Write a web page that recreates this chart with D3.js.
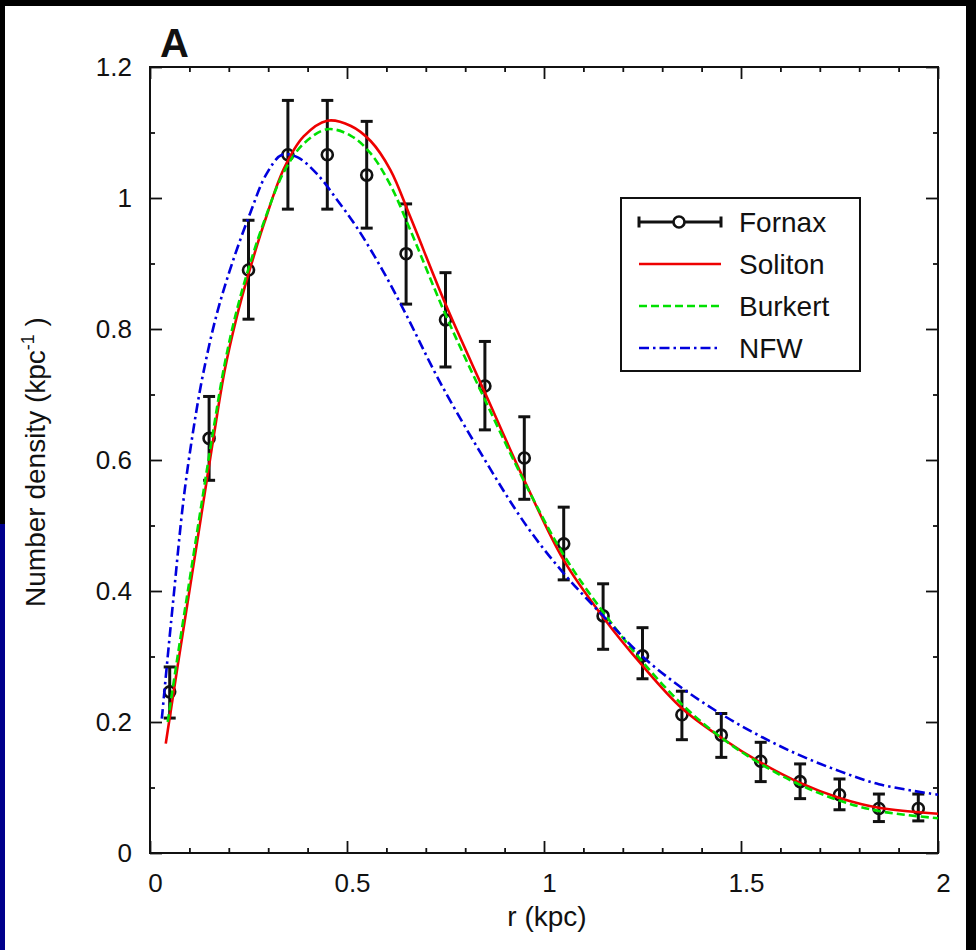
<!DOCTYPE html>
<html>
<head>
<meta charset="utf-8">
<script src="https://cdn.jsdelivr.net/npm/d3@7"></script>
<style>
  html, body { margin: 0; padding: 0; background: #000; }
  svg { display: block; }
  text { font-family: "Liberation Sans", Arial, Helvetica, sans-serif; fill: #111; }
</style>
</head>
<body>
<svg id="chart" width="976" height="950"></svg>
<script>
// ---------------- DATA ----------------
// Fornax number density (kpc^-1) with asymmetric error bars
const dataR     = [0.05, 0.15, 0.25, 0.35, 0.45, 0.55, 0.65, 0.75, 0.85, 0.95, 1.05, 1.15, 1.25, 1.35, 1.45, 1.55, 1.65, 1.75, 1.85, 1.95];
const dataN     = [0.246, 0.633, 0.890, 1.066, 1.066, 1.035, 0.915, 0.814, 0.713, 0.603, 0.472, 0.362, 0.301, 0.211, 0.180, 0.140, 0.109, 0.089, 0.068, 0.068];
const dataUpper = [0.284, 0.697, 0.966, 1.149, 1.149, 1.117, 0.991, 0.886, 0.781, 0.666, 0.528, 0.411, 0.344, 0.247, 0.213, 0.169, 0.136, 0.113, 0.090, 0.090];
const dataLower = [0.206, 0.569, 0.815, 0.983, 0.983, 0.954, 0.838, 0.742, 0.646, 0.540, 0.417, 0.311, 0.266, 0.173, 0.146, 0.109, 0.083, 0.066, 0.048, 0.049];

// Soliton fit
const solitonR = [0.04, 0.07, 0.10, 0.13, 0.16, 0.19, 0.22, 0.25, 0.29, 0.34, 0.39, 0.45, 0.51, 0.56, 0.61, 0.66, 0.75, 0.85, 0.95, 1.05, 1.15, 1.25, 1.35, 1.45, 1.55, 1.65, 1.75, 1.85, 2.00];
const solitonN = [0.167, 0.285, 0.400, 0.515, 0.630, 0.738, 0.818, 0.884, 0.962, 1.045, 1.094, 1.118, 1.110, 1.087, 1.043, 0.972, 0.838, 0.703, 0.569, 0.447, 0.360, 0.286, 0.221, 0.176, 0.138, 0.107, 0.084, 0.069, 0.060];

// Burkert fit
const burkertR = [0.045, 0.07, 0.10, 0.13, 0.16, 0.19, 0.22, 0.25, 0.29, 0.34, 0.39, 0.45, 0.51, 0.56, 0.61, 0.66, 0.75, 0.85, 0.95, 1.05, 1.15, 1.25, 1.35, 1.45, 1.55, 1.65, 1.75, 1.85, 2.00];
const burkertN = [0.200, 0.300, 0.415, 0.530, 0.643, 0.748, 0.828, 0.892, 0.965, 1.040, 1.083, 1.105, 1.095, 1.068, 1.020, 0.952, 0.822, 0.692, 0.567, 0.455, 0.368, 0.292, 0.227, 0.176, 0.136, 0.104, 0.080, 0.064, 0.053];

// NFW fit
const nfwR = [0.030, 0.045, 0.060, 0.085, 0.110, 0.135, 0.170, 0.210, 0.255, 0.295, 0.335, 0.375, 0.425, 0.475, 0.525, 0.590, 0.650, 0.735, 0.845, 0.955, 1.050, 1.150, 1.250, 1.350, 1.450, 1.550, 1.650, 1.750, 1.850, 2.000];
const nfwN = [0.205, 0.300, 0.392, 0.539, 0.646, 0.732, 0.824, 0.903, 0.978, 1.036, 1.066, 1.062, 1.036, 0.997, 0.955, 0.890, 0.822, 0.720, 0.605, 0.500, 0.427, 0.362, 0.300, 0.252, 0.212, 0.178, 0.149, 0.125, 0.105, 0.089];

// Axis ticks
const xMajorTicks = [0, 0.5, 1, 1.5, 2];
const xTickLabels = ["0", "0.5", "1", "1.5", "2"];
const xMinorTicks = [0.1, 0.2, 0.3, 0.4, 0.6, 0.7, 0.8, 0.9, 1.1, 1.2, 1.3, 1.4, 1.6, 1.7, 1.8, 1.9];
const yMajorTicks = [0, 0.2, 0.4, 0.6, 0.8, 1.0, 1.2];
const yTickLabels = ["0", "0.2", "0.4", "0.6", "0.8", "1", "1.2"];
const yMinorTicks = [0.1, 0.3, 0.5, 0.7, 0.9, 1.1];

const legendLabels = ["Fornax", "Soliton", "Burkert", "NFW"];

// ---------------- DRAW ----------------
const svg = d3.select("#chart");

// background: black frame, navy sliver at left, white page
svg.append("rect").attr("x", 0).attr("y", 0).attr("width", 976).attr("height", 950).attr("fill", "#000");
svg.append("rect").attr("x", 0).attr("y", 524).attr("width", 6).attr("height", 426).attr("fill", "#00008c");
svg.append("rect").attr("x", 5).attr("y", 6).attr("width", 961).attr("height", 944).attr("fill", "#fff");

const x = d3.scaleLinear().domain([0, 2]).range([150, 938]);
const y = d3.scaleLinear().domain([0, 1.2]).range([853, 67]);

const tickColor = "#111";

function styleAxis(g) {
  g.select(".domain").remove();
  g.selectAll(".tick line").attr("stroke", tickColor).attr("stroke-width", 1.8);
  g.selectAll(".tick text")
    .style("font-family", '"Liberation Sans", Arial, Helvetica, sans-serif')
    .style("font-size", "26px").attr("fill", "#111");
}

// bottom major
svg.append("g").attr("transform", "translate(0,853)")
  .call(d3.axisBottom(x).tickValues(xMajorTicks).tickSize(-12).tickPadding(21)
        .tickFormat((d, i) => xTickLabels[i]))
  .call(styleAxis)
  .call(g => g.selectAll(".tick text").attr("dx", 5));
// bottom minor
svg.append("g").attr("transform", "translate(0,853)")
  .call(d3.axisBottom(x).tickValues(xMinorTicks).tickSize(-5).tickFormat(""))
  .call(styleAxis);
// top
svg.append("g").attr("transform", "translate(0,67)")
  .call(d3.axisTop(x).tickValues(xMajorTicks).tickSize(-12).tickFormat(""))
  .call(styleAxis);
svg.append("g").attr("transform", "translate(0,67)")
  .call(d3.axisTop(x).tickValues(xMinorTicks).tickSize(-5).tickFormat(""))
  .call(styleAxis);
// left major
svg.append("g").attr("transform", "translate(150,0)")
  .call(d3.axisLeft(y).tickValues(yMajorTicks).tickSize(-12).tickPadding(18)
        .tickFormat((d, i) => yTickLabels[i]))
  .call(styleAxis);
svg.append("g").attr("transform", "translate(150,0)")
  .call(d3.axisLeft(y).tickValues(yMinorTicks).tickSize(-5).tickFormat(""))
  .call(styleAxis);
// right
svg.append("g").attr("transform", "translate(938,0)")
  .call(d3.axisRight(y).tickValues(yMajorTicks).tickSize(-12).tickFormat(""))
  .call(styleAxis);
svg.append("g").attr("transform", "translate(938,0)")
  .call(d3.axisRight(y).tickValues(yMinorTicks).tickSize(-5).tickFormat(""))
  .call(styleAxis);

// frame
svg.append("rect")
  .attr("x", x(0)).attr("y", y(1.2))
  .attr("width", x(2) - x(0)).attr("height", y(0) - y(1.2))
  .attr("fill", "none").attr("stroke", "#111").attr("stroke-width", 2);

// data with error bars
const pts = dataR.map((r, i) => ({ r, n: dataN[i], lo: dataLower[i], hi: dataUpper[i] }));
const dg = svg.append("g");
const capW = 6;
dg.selectAll(".eb").data(pts).join("line")
  .attr("x1", d => x(d.r)).attr("x2", d => x(d.r))
  .attr("y1", d => y(d.lo)).attr("y2", d => y(d.hi))
  .attr("stroke", "#111").attr("stroke-width", 3);
dg.selectAll(".capT").data(pts).join("line")
  .attr("x1", d => x(d.r) - capW).attr("x2", d => x(d.r) + capW)
  .attr("y1", d => y(d.hi)).attr("y2", d => y(d.hi))
  .attr("stroke", "#111").attr("stroke-width", 3);
dg.selectAll(".capB").data(pts).join("line")
  .attr("x1", d => x(d.r) - capW).attr("x2", d => x(d.r) + capW)
  .attr("y1", d => y(d.lo)).attr("y2", d => y(d.lo))
  .attr("stroke", "#111").attr("stroke-width", 3);
dg.selectAll("circle").data(pts).join("circle")
  .attr("cx", d => x(d.r)).attr("cy", d => y(d.n)).attr("r", 5.5)
  .attr("fill", "none").attr("stroke", "#111").attr("stroke-width", 2.6);

// model curves
const line = d3.line().x(d => x(d[0])).y(d => y(d[1])).curve(d3.curveCatmullRom.alpha(0.5));
const series = [
  { r: solitonR, n: solitonN, color: "#ee0000", dash: null },
  { r: burkertR, n: burkertN, color: "#00e000", dash: "8,4" },
  { r: nfwR, n: nfwN, color: "#0000dd", dash: "10,4,2.5,4" }
];
series.forEach(s => {
  svg.append("path")
    .datum(s.r.map((r, i) => [r, s.n[i]]))
    .attr("d", line)
    .attr("fill", "none")
    .attr("stroke", s.color)
    .attr("stroke-width", 2.6)
    .attr("stroke-dasharray", s.dash);
});

// legend
const lg = svg.append("g");
lg.append("rect").attr("x", 621).attr("y", 198).attr("width", 239).attr("height", 173)
  .attr("fill", "#fff").attr("stroke", "#111").attr("stroke-width", 2);
const rowY = [222, 264, 306, 348];
const lx1 = 639, lx2 = 721;
// Fornax sample
lg.append("line").attr("x1", lx1).attr("x2", lx2).attr("y1", rowY[0]).attr("y2", rowY[0]).attr("stroke", "#111").attr("stroke-width", 3);
lg.append("line").attr("x1", lx1).attr("x2", lx1).attr("y1", rowY[0] - 5.5).attr("y2", rowY[0] + 5.5).attr("stroke", "#111").attr("stroke-width", 3);
lg.append("line").attr("x1", lx2).attr("x2", lx2).attr("y1", rowY[0] - 5.5).attr("y2", rowY[0] + 5.5).attr("stroke", "#111").attr("stroke-width", 3);
lg.append("circle").attr("cx", 679).attr("cy", rowY[0]).attr("r", 5.5).attr("fill", "#fff").attr("stroke", "#111").attr("stroke-width", 2.6);
series.forEach((s, i) => {
  lg.append("line").attr("x1", lx1).attr("x2", lx2).attr("y1", rowY[i + 1]).attr("y2", rowY[i + 1])
    .attr("stroke", s.color).attr("stroke-width", 2.6).attr("stroke-dasharray", s.dash);
});
legendLabels.forEach((t, i) => {
  lg.append("text").attr("x", 739).attr("y", rowY[i] + 10)
    .style("font-size", "28px").text(t);
});

// axis titles
svg.append("text").attr("x", 547).attr("y", 926).attr("text-anchor", "middle")
  .style("font-size", "28px").text("r (kpc)");

const yt = svg.append("text")
  .attr("transform", "translate(45,462) rotate(-90)")
  .attr("text-anchor", "middle")
  .style("font-size", "28px");
yt.append("tspan").text("Number density (kpc");
yt.append("tspan").attr("dy", -11).style("font-size", "18px").text("-1");
yt.append("tspan").attr("dy", 11).text(" )");

// panel letter
svg.append("text").attr("x", 160).attr("y", 57)
  .style("font-size", "40px").style("font-weight", "bold").text("A");
</script>
</body>
</html>
